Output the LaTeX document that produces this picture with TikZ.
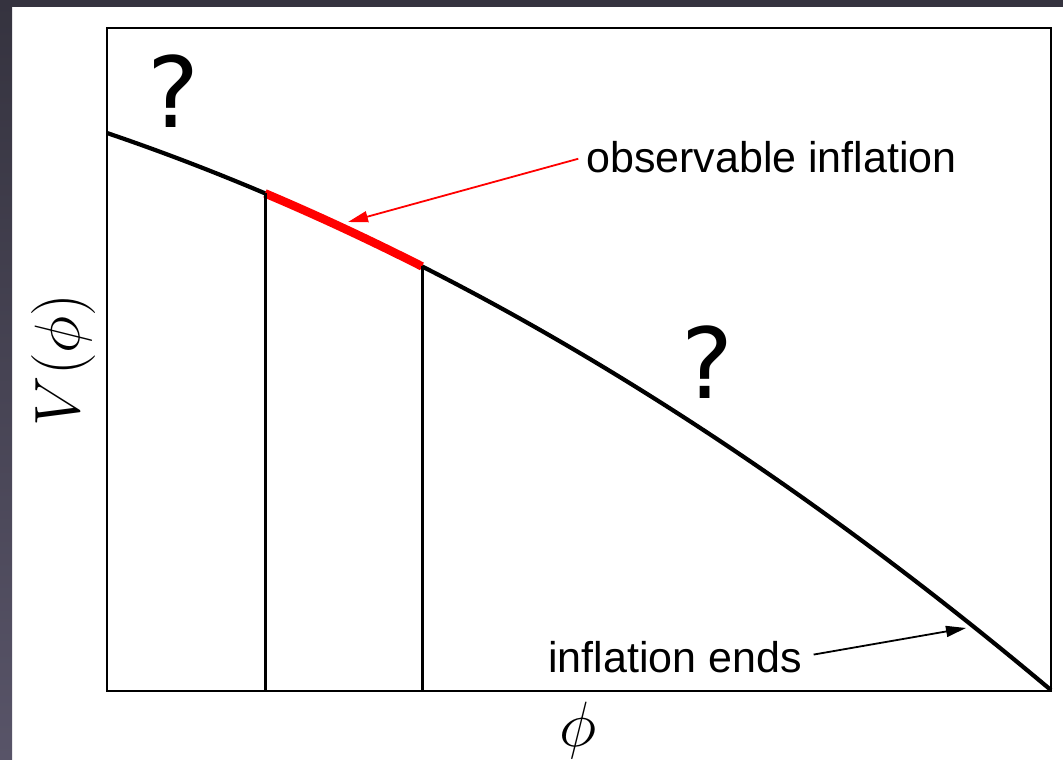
\RequirePackage{fix-cm}
\documentclass[tikz,border=0pt]{standalone}
\usepackage{fontspec}
\setmainfont{Liberation Sans}
\newfontfamily\qfont{DejaVu Sans}
\usetikzlibrary{arrows.meta}
\definecolor{bgdark}{RGB}{53,51,63}
\definecolor{bgside}{RGB}{88,84,104}

\begin{document}
\begin{tikzpicture}[x=1pt,y=-1pt,
 axesbox/.style={draw=black,line width=2.8pt},
 potential/.style={draw=black,line width=4.2pt},
 window/.style={draw=red,line width=8.5pt},
 marker/.style={draw=black,line width=3pt},
 tag/.style={font=\fontsize{43}{43}\selectfont,inner sep=0pt},
 query/.style={font=\qfont\fontsize{98}{98}\selectfont,inner sep=0pt,anchor=base},
 axislabel/.style={font=\fontsize{64}{64}\selectfont,inner sep=0pt},
 pointer/.style={-{Triangle[length=20pt,width=11pt]},line width=1.8pt}
]
% background
\useasboundingbox (0,0) rectangle (1063,760);
\fill[white] (0,0) rectangle (1063,760);
\fill[bgdark] (0,0) rectangle (1063,7);
\shade[top color=bgdark,bottom color=bgside] (0,0) rectangle (12,760);

% axes
\draw[axesbox] (107,28) rectangle (1051,691);
\coordinate (floor) at (0,691);

% potential and observable window
\draw[potential] plot[domain=0:9.44,samples=120,smooth] ({107+100*\x},{133+34*\x+2.65*\x*\x});
\draw[window] plot[domain=1.58:3.15,samples=30,smooth] ({107+100*\x},{133+34*\x+2.65*\x*\x});
\coordinate (winstart) at (265,193.3);
\coordinate (winend) at (422,266.4);
\draw[marker] (winstart) -- (winstart |- floor);
\draw[marker] (winend) -- (winend |- floor);

% labels
\node[tag,anchor=base west] (obs) at (586,172) {observable inflation};
\node[tag,anchor=base west] (ends) at (548,672) {inflation ends};
\node[query] (qtop) at (174,127) {?};
\node[query] (qmid) at (707,398) {?};
\node[axislabel,rotate=90] (vphi) at (64,360) {$V(\phi)$};
\node[axislabel,anchor=base] (phi) at (578,746) {$\phi$};

% pointers
\coordinate (obstip) at (348,222);
\coordinate (endtip) at (966,628);
\draw[pointer,red,shorten <=8pt] (obs.west) -- (obstip);
\draw[pointer,shorten <=12pt] (ends.east) -- (endtip);
\end{tikzpicture}
\end{document}
